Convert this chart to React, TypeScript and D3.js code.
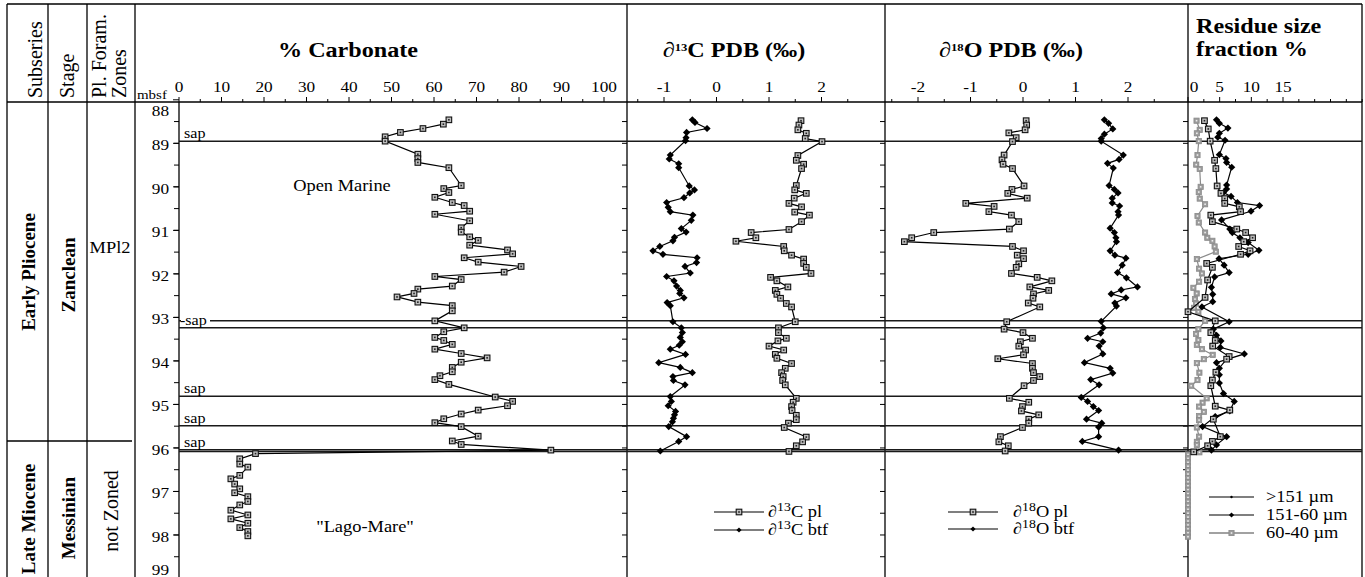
import React from "react";
import * as d3 from "d3";

// ---- % Carbonate ----
const carbDepth = [88.46, 88.56, 88.66, 88.75, 88.85, 88.95, 89.25, 89.35, 89.44, 89.56, 89.97, 90.04, 90.13, 90.24, 90.36, 90.43, 90.56, 90.63, 90.78, 90.94, 91.04, 91.15, 91.23, 91.34, 91.45, 91.54, 91.63, 91.73, 91.83, 91.96, 92.06, 92.13, 92.28, 92.35, 92.45, 92.53, 92.65, 92.73, 92.85, 93.08, 93.24, 93.33, 93.46, 93.53, 93.62, 93.73, 93.83, 93.93, 94.03, 94.15, 94.25, 94.34, 94.43, 94.54, 94.83, 94.93, 95.03, 95.13, 95.22, 95.33, 95.42, 95.51, 95.73, 95.84, 95.92, 96.05, 96.13, 96.25, 96.37, 96.44, 96.63, 96.71, 96.83, 96.94, 97.03, 97.12, 97.23, 97.31, 97.43, 97.54, 97.63, 97.73, 97.83, 97.92, 98.02];
const carbPct = [63.5, 62.2, 57.4, 52.1, 48.5, 48.5, 56.2, 56.2, 56.2, 63.5, 66.4, 62.3, 63.5, 60.2, 64.3, 67.1, 68.4, 60.2, 68.4, 66.4, 66.4, 68.4, 70.4, 68.4, 77.3, 78.5, 67.1, 70.4, 80.5, 76.5, 60.2, 66.4, 64.3, 56.2, 55.3, 51.3, 56.2, 64.3, 64.3, 60.2, 67.1, 62.3, 60.2, 62.3, 64.3, 60.2, 66.4, 72.5, 66.4, 64.3, 64.3, 61.4, 60.2, 63.5, 74.4, 78.5, 77.3, 70.4, 66.4, 62.3, 60.2, 66.4, 70.4, 64.3, 66.4, 87.5, 18.0, 14.3, 14.3, 16.2, 14.3, 12.2, 13.1, 14.3, 13.1, 16.2, 16.2, 14.3, 12.2, 16.2, 12.2, 16.2, 14.3, 16.2, 16.2];

// ---- d13C ----
const c13PlDepth = [88.48, 88.58, 88.69, 88.77, 88.89, 88.96, 89.28, 89.39, 89.48, 89.58, 89.97, 90.07, 90.15, 90.26, 90.38, 90.46, 90.58, 90.65, 90.8, 90.98, 91.05, 91.17, 91.25, 91.37, 91.47, 91.57, 91.66, 91.76, 91.85, 91.99, 92.08, 92.16, 92.3, 92.38, 92.47, 92.56, 92.68, 92.76, 93.1, 93.24, 93.35, 93.48, 93.54, 93.66, 93.75, 93.85, 93.94, 94.06, 94.17, 94.27, 94.36, 94.45, 94.55, 94.86, 94.95, 95.05, 95.14, 95.25, 95.35, 95.43, 95.53, 95.75, 95.86, 95.95, 96.08];
const c13Pl = [1.61, 1.57, 1.55, 1.71, 1.69, 2.01, 1.55, 1.52, 1.66, 1.62, 1.52, 1.49, 1.71, 1.48, 1.38, 1.62, 1.49, 1.77, 1.62, 1.38, 0.66, 0.75, 0.37, 1.28, 1.29, 1.43, 1.66, 1.66, 1.71, 1.8, 1.03, 1.15, 1.36, 1.12, 1.15, 1.22, 1.33, 1.43, 1.5, 1.18, 1.18, 1.33, 1.17, 1.0, 1.28, 1.12, 1.15, 1.43, 1.31, 1.24, 1.27, 1.26, 1.31, 1.52, 1.46, 1.43, 1.44, 1.52, 1.52, 1.37, 1.29, 1.71, 1.64, 1.52, 1.38];
const c13BtfDepth = [88.46, 88.52, 88.66, 88.75, 88.87, 88.94, 89.27, 89.36, 89.47, 89.56, 89.98, 90.07, 90.14, 90.25, 90.36, 90.47, 90.57, 90.65, 90.77, 90.96, 91.04, 91.16, 91.24, 91.37, 91.47, 91.55, 91.63, 91.74, 91.83, 91.98, 92.06, 92.16, 92.28, 92.38, 92.45, 92.55, 92.66, 92.73, 93.1, 93.24, 93.35, 93.46, 93.56, 93.64, 93.73, 93.85, 94.04, 94.15, 94.27, 94.36, 94.45, 94.55, 94.82, 94.93, 95.03, 95.16, 95.24, 95.32, 95.4, 95.51, 95.74, 95.85, 96.07];
const c13Btf = [-0.46, -0.41, -0.18, -0.57, -0.58, -0.59, -0.88, -0.9, -0.72, -0.72, -0.52, -0.42, -0.51, -0.62, -0.95, -0.92, -0.88, -0.45, -0.48, -0.67, -0.58, -0.8, -0.83, -1.08, -1.21, -1.02, -0.37, -0.38, -0.6, -0.5, -0.95, -0.81, -0.76, -0.69, -0.7, -0.62, -0.94, -0.88, -0.83, -0.67, -0.65, -0.69, -0.65, -0.71, -0.88, -0.59, -1.1, -0.69, -0.46, -0.83, -0.82, -0.6, -0.88, -0.86, -0.92, -0.78, -0.8, -0.82, -0.84, -0.91, -0.57, -0.72, -1.07];

// ---- d18O ----
const o18PlDepth = [88.48, 88.58, 88.69, 88.76, 88.87, 88.96, 89.27, 89.38, 89.48, 89.58, 89.98, 90.06, 90.15, 90.26, 90.38, 90.45, 90.57, 90.65, 90.8, 90.97, 91.05, 91.17, 91.26, 91.37, 91.47, 91.57, 91.65, 91.77, 91.85, 91.99, 92.08, 92.16, 92.3, 92.38, 92.46, 92.56, 92.67, 92.76, 93.1, 93.27, 93.35, 93.48, 93.56, 93.66, 93.75, 93.86, 93.95, 94.06, 94.17, 94.27, 94.36, 94.45, 94.57, 94.86, 94.95, 95.05, 95.15, 95.24, 95.34, 95.43, 95.53, 95.74, 95.86, 95.95, 96.07];
const o18Pl = [0.06, 0.07, 0.04, -0.27, -0.13, -0.2, -0.36, -0.4, -0.38, -0.2, 0.02, -0.21, -0.29, 0.08, -1.09, -0.55, -0.65, -0.22, -0.08, -0.26, -1.7, -2.12, -2.26, -0.2, 0.01, -0.11, 0.01, -0.08, -0.13, -0.22, 0.27, 0.55, 0.13, 0.49, 0.2, 0.19, 0.1, 0.32, -0.31, -0.36, 0.0, 0.18, -0.05, -0.08, 0.05, 0.01, -0.48, 0.18, 0.18, 0.2, 0.32, 0.2, 0.02, -0.26, 0.11, -0.01, -0.03, 0.3, 0.11, 0.11, -0.01, -0.43, -0.46, -0.28, -0.34];
const o18BtfDepth = [88.46, 88.54, 88.67, 88.79, 88.89, 88.95, 89.27, 89.37, 89.46, 89.57, 89.97, 90.06, 90.14, 90.26, 90.37, 90.44, 90.57, 90.65, 90.95, 91.05, 91.17, 91.26, 91.47, 91.57, 91.64, 91.8, 91.97, 92.09, 92.3, 92.37, 92.46, 92.55, 92.67, 92.74, 93.09, 93.24, 93.36, 93.48, 93.56, 93.66, 93.84, 94.04, 94.17, 94.28, 94.43, 94.55, 94.84, 94.93, 95.05, 95.14, 95.34, 95.43, 95.52, 95.74, 95.85, 96.05];
const o18Btf = [1.55, 1.63, 1.71, 1.55, 1.49, 1.49, 1.91, 1.83, 1.61, 1.72, 1.64, 1.74, 1.81, 1.7, 1.7, 1.84, 1.81, 1.82, 1.66, 1.74, 1.77, 1.78, 1.66, 1.75, 1.96, 1.89, 1.8, 1.97, 2.18, 1.87, 1.68, 1.96, 1.75, 1.78, 1.49, 1.53, 1.48, 1.23, 1.52, 1.45, 1.52, 1.17, 1.66, 1.71, 1.29, 1.45, 1.11, 1.23, 1.34, 1.44, 1.21, 1.5, 1.44, 1.44, 1.13, 1.82];

// ---- Residue size fractions ----
const resCoarseDepth = [88.48, 88.67, 88.95, 89.39, 89.58, 89.98, 90.15, 90.27, 90.38, 90.46, 90.57, 90.65, 90.8, 90.97, 91.05, 91.17, 91.26, 91.37, 91.47, 91.55, 91.76, 91.85, 92.14, 92.54, 92.87, 93.08, 93.35, 93.53, 93.66, 93.9, 93.96, 94.26, 94.44, 94.57, 95.04, 95.13, 95.34, 95.74, 95.85, 95.95, 96.09];
const resCoarse = [2.6, 3.2, 3.5, 4.2, 4.4, 4.6, 5.2, 5.8, 5.8, 8.1, 8.3, 3.6, 3.85, 7.7, 9.1, 10.2, 8.8, 8.0, 9.8, 8.3, 2.95, 3.85, 3.1, 2.7, 0.0, 4.3, 3.6, 4.3, 3.9, 6.5, 6.1, 4.4, 3.85, 3.6, 4.3, 6.6, 4.0, 5.1, 3.85, 3.1, 0.9];
const resMidDepth = [88.46, 88.54, 88.65, 88.77, 88.86, 88.93, 89.26, 89.35, 89.44, 89.55, 89.96, 90.05, 90.13, 90.22, 90.36, 90.43, 90.56, 90.76, 90.97, 91.05, 91.17, 91.28, 91.46, 91.55, 91.65, 91.8, 91.97, 92.07, 92.31, 92.47, 92.64, 92.76, 93.1, 93.27, 93.41, 93.54, 93.69, 93.84, 94.04, 94.17, 94.32, 94.51, 94.75, 94.93, 95.15, 95.28, 95.51, 95.74, 95.93, 96.05];
const resMid = [4.5, 4.95, 6.3, 4.95, 4.7, 5.85, 4.95, 6.0, 6.1, 6.9, 6.1, 6.1, 5.6, 6.8, 7.8, 11.3, 9.95, 5.3, 6.6, 7.0, 8.2, 9.5, 11.2, 9.5, 4.9, 5.7, 6.5, 4.2, 3.7, 3.9, 3.9, 2.2, 6.5, 4.0, 4.5, 5.2, 5.1, 8.9, 4.5, 4.95, 4.95, 4.95, 5.6, 7.3, 6.6, 4.3, 2.3, 6.1, 4.5, 3.7];
const resFineDepth = [88.48, 88.69, 88.77, 88.95, 89.27, 89.49, 89.59, 90.0, 90.12, 90.27, 90.4, 90.67, 90.82, 91.05, 91.17, 91.24, 91.37, 91.49, 91.66, 91.88, 91.99, 92.18, 92.32, 92.45, 92.58, 92.68, 92.78, 92.87, 93.08, 93.27, 93.38, 93.52, 93.63, 93.73, 93.86, 93.96, 94.05, 94.27, 94.44, 94.57, 94.86, 94.96, 95.05, 95.17, 95.27, 95.36, 95.53, 95.74, 95.86, 95.93, 96.1, 96.15, 96.24, 96.33, 96.42, 96.51, 96.6, 96.69, 96.78, 96.87, 96.96, 97.05, 97.14, 97.23, 97.32, 97.41, 97.5, 97.59, 97.68, 97.77, 97.86, 97.95, 98.04];
const resFine = [1.35, 1.85, 1.4, 1.7, 1.5, 1.3, 1.85, 2.0, 1.7, 1.85, 2.7, 1.5, 1.7, 2.7, 3.05, 3.85, 4.2, 4.4, 1.4, 1.75, 2.2, 1.75, 0.85, 1.37, 1.1, 1.27, 0.95, 1.64, 2.7, 1.64, 1.27, 1.64, 1.4, 2.2, 3.9, 2.5, 1.4, 1.8, 1.5, 0.5, 2.95, 2.3, 1.75, 2.5, 1.75, 1.75, 1.4, 1.75, 1.4, 1.4, 1.8, 0, 0, 0, 0, 0, 0, 0, 0, 0, 0, 0, 0, 0, 0, 0, 0, 0, 0, 0, 0, 0, 0];

// ---- annotations ----
const sapDepths = [88.95, 93.08, 93.24, 94.81, 95.49, 96.04, 96.08];
const sapLabelDepths = [88.95, 94.81, 95.49, 96.04];
const depthTicks = [88, 89, 90, 91, 92, 93, 94, 95, 96, 97, 98, 99];

const FONT = "'Liberation Serif', 'Times New Roman', serif";
const SX = 1.15; // the reference's lettering is a little wide

const y = d3.scaleLinear().domain([88, 99]).range([99.8, 578.5]);
const xCarb = d3.scaleLinear().domain([0, 100]).range([179, 604]);
const xC13 = d3.scaleLinear().domain([-1, 2]).range([664, 821.5]);
const xO18 = d3.scaleLinear().domain([-2, 2]).range([918, 1128]);
const xRes = d3.scaleLinear().domain([0, 15]).range([1188, 1283]);

const AXIS_Y = 102;
const panelLeft = [179, 627, 885, 1188];

const pts = (ds: number[], vs: number[]) => ds.map((d, i) => [d, vs[i]] as [number, number]);

// text, stretched sideways; rot turns it to read bottom-up
function T({ x, y: yy, size = 15, anchor = "start", weight = "normal", rot = false, children }: any) {
  const tf = rot ? `translate(${x},${yy}) rotate(-90)` : `translate(${x},${yy}) scale(${SX},1)`;
  return (
    <text transform={tf} fontSize={size} textAnchor={anchor} fontWeight={weight}>
      {children}
    </text>
  );
}

const Square = ({ cx, cy }: { cx: number; cy: number }) => (
  <g>
    <rect x={cx - 2.8} y={cy - 2.8} width={5.6} height={5.6} fill="#bdbdbd" stroke="#111" strokeWidth={1.1} />
    <rect x={cx - 0.8} y={cy - 0.8} width={1.6} height={1.6} fill="#222" />
  </g>
);
const GraySquare = ({ cx, cy }: { cx: number; cy: number }) => (
  <g>
    <rect x={cx - 2.6} y={cy - 2.6} width={5.2} height={5.2} fill="#9c9c9c" stroke="#8a8a8a" strokeWidth={0.8} />
    <rect x={cx - 0.8} y={cy - 0.8} width={1.6} height={1.6} fill="#eee" />
  </g>
);
const Diamond = ({ cx, cy }: { cx: number; cy: number }) => (
  <path d={`M${cx},${cy - 3.6}L${cx + 3.6},${cy}L${cx},${cy + 3.6}L${cx - 3.6},${cy}Z`} fill="#000" />
);
const SmallDiamond = ({ cx, cy }: { cx: number; cy: number }) => (
  <path d={`M${cx},${cy - 2.6}L${cx + 2.6},${cy}L${cx},${cy + 2.6}L${cx - 2.6},${cy}Z`} fill="#000" />
);

function Series({ data, x, marker, stroke = "#000" }: any) {
  const line = d3.line<[number, number]>().x((p) => x(p[1])).y((p) => y(p[0]));
  const M = marker;
  return (
    <g>
      <path d={line(data) || ""} fill="none" stroke={stroke} strokeWidth={1.2} />
      {data.map((p: [number, number], i: number) => (
        <M key={i} cx={x(p[1])} cy={y(p[0])} />
      ))}
    </g>
  );
}

function TopAxis({ scale, ticks, labels, shift = {} }: any) {
  return (
    <g>
      {ticks.map((t: number) => {
        const major = labels.includes(t);
        return <line key={"t" + t} x1={scale(t)} x2={scale(t)} y1={AXIS_Y} y2={AXIS_Y - (major ? 5 : 3)} stroke="#000" strokeWidth={1} />;
      })}
      {labels.map((t: number) => (
        <T key={"l" + t} x={scale(t) + (shift[t] || 0)} y={92} anchor="middle" size={15}>
          {t}
        </T>
      ))}
    </g>
  );
}

function Legend({ x0, x1, ys, items, tx }: any) {
  return (
    <g>
      {items.map((it: any, i: number) => {
        const yy = ys[i];
        const M = it.marker;
        return (
          <g key={i}>
            <line x1={x0} x2={x1} y1={yy} y2={yy} stroke={it.stroke || "#000"} strokeWidth={1.2} />
            {M ? <M cx={(x0 + x1) / 2} cy={yy} /> : <circle cx={(x0 + x1) / 2} cy={yy} r={1.2} fill="#000" />}
            <T x={tx} y={yy + 5} size={16}>
              {it.label}
            </T>
          </g>
        );
      })}
    </g>
  );
}

const Iso = ({ n, rest, sup = 11 }: { n: string; rest: string; sup?: number }) => (
  <>
    ∂<tspan dy={-6} fontSize={sup}>{n}</tspan>
    <tspan dy={6}>{rest}</tspan>
  </>
);

export default function App() {
  const halfTicks = d3.range(88.5, 99.01, 0.5);
  return (
    <svg
      width={1365}
      height={577}
      style={{ position: "absolute", left: 0, top: 0, background: "#fff" }}
      fontFamily={FONT}
    >
      <rect x={0} y={0} width={1365} height={577} fill="#fff" />

      {/* frame */}
      <line x1={7} x2={1362} y1={4} y2={4} stroke="#000" strokeWidth={1.3} />
      <line x1={7} x2={1362} y1={AXIS_Y} y2={AXIS_Y} stroke="#000" strokeWidth={1.3} />
      {[7, 48, 87, 135, 627, 885, 1188, 1362].map((x) => (
        <line key={x} x1={x} x2={x} y1={4} y2={577} stroke="#000" strokeWidth={1.3} />
      ))}
      <line x1={179} x2={179} y1={AXIS_Y} y2={577} stroke="#000" strokeWidth={1.3} />
      <line x1={7} x2={132} y1={441} y2={441} stroke="#000" strokeWidth={1.3} />

      {/* left column headers */}
      <T x={42} y={98} size={20} rot>Subseries</T>
      <T x={74} y={98} size={20} rot>Stage</T>
      <T x={106} y={98} size={20} rot>Pl. Foram.</T>
      <T x={126} y={98} size={20} rot>Zones</T>
      <T x={137} y={99} size={13}>mbsf</T>

      {/* left column bodies */}
      <T x={35} y={272} size={19} weight="bold" anchor="middle" rot>Early Pliocene</T>
      <T x={75} y={275} size={19} weight="bold" anchor="middle" rot>Zanclean</T>
      <T x={35} y={519} size={19} weight="bold" anchor="middle" rot>Late Miocene</T>
      <T x={75} y={518} size={19} weight="bold" anchor="middle" rot>Messinian</T>
      <T x={110} y={253} size={16} anchor="middle">MPl2</T>
      <T x={118} y={511} size={20} anchor="middle" rot>not Zoned</T>

      {/* depth axis */}
      {depthTicks.map((d) => (
        <g key={d}>
          <line x1={173} x2={179} y1={y(d)} y2={y(d)} stroke="#000" />
          <T x={169} y={d === 88 ? 116 : d === 99 ? 575 : y(d) + 7} anchor="end" size={15}>
            {d}
          </T>
        </g>
      ))}
      {panelLeft.map((px) =>
        halfTicks.map((d) => (
          <line key={px + "-" + d} x1={px - 5} x2={px} y1={y(d)} y2={y(d)} stroke="#000" strokeWidth={1} />
        ))
      )}

      {/* titles */}
      <T x={348} y={57} size={21} weight="bold" anchor="middle">% Carbonate</T>
      <T x={734} y={57} size={21} weight="bold" anchor="middle">
        <Iso n="13" rest="C PDB (‰)" />
      </T>
      <T x={1011} y={57} size={21} weight="bold" anchor="middle">
        <Iso n="18" rest="O PDB (‰)" />
      </T>
      <T x={1196} y={33} size={21} weight="bold">Residue  size</T>
      <T x={1196} y={56} size={21} weight="bold">fraction %</T>

      {/* top axes */}
      <TopAxis scale={xCarb} ticks={d3.range(0, 101, 5)} labels={[0, 10, 20, 30, 40, 50, 60, 70, 80, 90, 100]} />
      <TopAxis scale={xC13} ticks={d3.range(-1.5, 2.51, 0.5)} labels={[-1, 0, 1, 2]} />
      <TopAxis scale={xO18} ticks={d3.range(-2.5, 2.51, 0.5)} labels={[-2, -1, 0, 1, 2]} />
      <TopAxis scale={xRes} ticks={d3.range(0, 27.6, 2.5)} labels={[0, 5, 10, 15]} shift={{ 0: 6 }} />

      {/* sap lines */}
      {sapDepths.map((d, i) => (
        <line key={i} x1={179} x2={1362} y1={y(d)} y2={y(d)} stroke="#1a1a1a" strokeWidth={1.5} />
      ))}
      <rect x={181} y={y(93.08) - 7} width={29} height={12} fill="#fff" />
      <T x={180} y={y(93.08) + 4} size={14}>-sap</T>
      {sapLabelDepths.map((d) => (
        <T key={d} x={184} y={y(d) - 3} size={14}>
          sap
        </T>
      ))}

      {/* annotations */}
      <T x={342} y={191} size={16} anchor="middle">Open Marine</T>
      <T x={365} y={532} size={16} anchor="middle">"Lago-Mare"</T>

      {/* data */}
      <Series data={pts(carbDepth, carbPct)} x={xCarb} marker={Square} />
      <Series data={pts(c13BtfDepth, c13Btf)} x={xC13} marker={Diamond} />
      <Series data={pts(c13PlDepth, c13Pl)} x={xC13} marker={Square} />
      <Series data={pts(o18PlDepth, o18Pl)} x={xO18} marker={Square} />
      <Series data={pts(o18BtfDepth, o18Btf)} x={xO18} marker={Diamond} />
      <Series data={pts(resFineDepth, resFine)} x={xRes} marker={GraySquare} stroke="#8a8a8a" />
      <Series data={pts(resMidDepth, resMid)} x={xRes} marker={Diamond} />
      <Series data={pts(resCoarseDepth, resCoarse)} x={xRes} marker={Square} />

      {/* legends */}
      <Legend
        x0={714}
        x1={764}
        ys={[512, 530]}
        tx={768}
        items={[
          { marker: Square, label: <Iso n="13" rest="C pl" sup={12} /> },
          { marker: SmallDiamond, label: <Iso n="13" rest="C btf" sup={12} /> },
        ]}
      />
      <Legend
        x0={948}
        x1={998}
        ys={[512, 529]}
        tx={1013}
        items={[
          { marker: Square, label: <Iso n="18" rest="O pl" sup={12} /> },
          { marker: SmallDiamond, label: <Iso n="18" rest="O btf" sup={12} /> },
        ]}
      />
      <Legend
        x0={1209}
        x1={1254}
        ys={[497, 515, 533]}
        tx={1266}
        items={[
          { marker: null, label: ">151 µm" },
          { marker: SmallDiamond, label: "151-60 µm" },
          { marker: GraySquare, label: "60-40 µm", stroke: "#444" },
        ]}
      />
    </svg>
  );
}
